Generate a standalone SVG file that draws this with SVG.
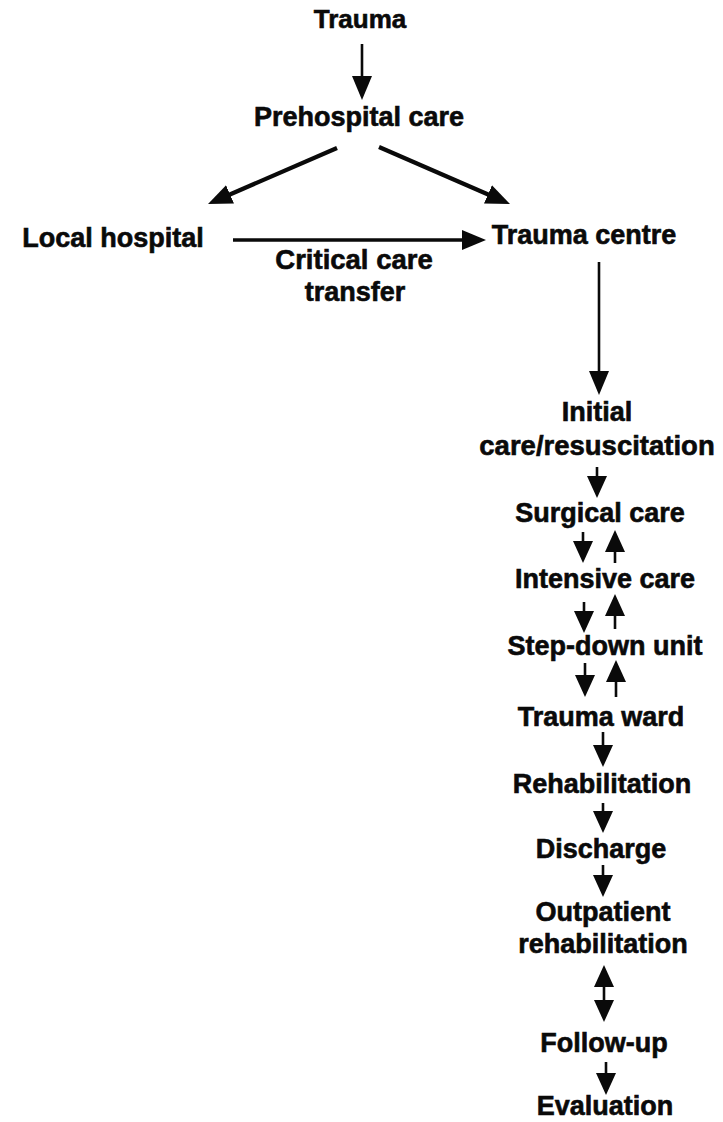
<svg xmlns="http://www.w3.org/2000/svg" width="723" height="1122" viewBox="0 0 723 1122">
<style>
  text { font-family: "Liberation Sans", Arial, Helvetica, sans-serif; font-weight: bold; font-size: 27px; fill: #0a0a0a; stroke: #0a0a0a; stroke-width: 0.6; text-anchor: middle; }
  .c { stroke: #0a0a0a; fill: none; }
  .thin { stroke-width: 2.6; }
  .mid { stroke-width: 3.4; }
  .thick { stroke-width: 4.2; }
</style>
<defs>
  <marker id="ah" markerUnits="userSpaceOnUse" viewBox="0 0 24 20" refX="14" refY="10" markerWidth="24" markerHeight="20" orient="auto-start-reverse">
    <path d="M0,0 L24,10 L0,20 z" fill="#0a0a0a"/>
  </marker>
  <marker id="as" markerUnits="userSpaceOnUse" viewBox="0 0 22 20" refX="12" refY="10" markerWidth="22" markerHeight="20" orient="auto-start-reverse">
    <path d="M0,0 L22,10 L0,20 z" fill="#0a0a0a"/>
  </marker>
</defs>

<g id="connectors">
  <line class="c thin" x1="362" y1="44" x2="362" y2="90" marker-end="url(#ah)"/>
  <line class="c thick" x1="337" y1="148" x2="217.2" y2="200" marker-end="url(#ah)"/>
  <line class="c thick" x1="379" y1="147" x2="500.8" y2="200" marker-end="url(#ah)"/>
  <line class="c mid" x1="233" y1="240" x2="476" y2="240" marker-end="url(#ah)"/>
  <line class="c thin" x1="599" y1="262" x2="599" y2="385" marker-end="url(#ah)"/>
  <line class="c thin" x1="597" y1="467" x2="597" y2="488" marker-end="url(#as)"/>
  <line class="c thin" x1="583" y1="532" x2="583" y2="553" marker-end="url(#as)"/>
  <line class="c thin" x1="615" y1="563" x2="615" y2="540" marker-end="url(#as)"/>
  <line class="c thin" x1="584" y1="602" x2="584" y2="623" marker-end="url(#as)"/>
  <line class="c thin" x1="615" y1="629" x2="615" y2="604" marker-end="url(#as)"/>
  <line class="c thin" x1="585" y1="663" x2="585" y2="687" marker-end="url(#as)"/>
  <line class="c thin" x1="616" y1="697" x2="616" y2="670" marker-end="url(#as)"/>
  <line class="c thin" x1="603" y1="732" x2="603" y2="757" marker-end="url(#as)"/>
  <line class="c thin" x1="603" y1="803" x2="603" y2="823" marker-end="url(#as)"/>
  <line class="c thin" x1="603" y1="865" x2="603" y2="887" marker-end="url(#as)"/>
  <line class="c thin" x1="604" y1="975" x2="604" y2="1012" marker-start="url(#as)" marker-end="url(#as)"/>
  <line class="c thin" x1="606" y1="1062" x2="606" y2="1085" marker-end="url(#as)"/>
</g>

<g id="trauma"><text x="360" y="28" style="font-size:26px">Trauma</text></g>
<g id="prehospital"><text x="359" y="126">Prehospital care</text></g>
<g id="local-hospital"><text x="113" y="247">Local hospital</text></g>
<g id="trauma-centre"><text x="584" y="244">Trauma centre</text></g>
<g id="critical-care-transfer">
  <text x="354" y="269" style="font-size:27.5px">Critical care</text>
  <text x="355" y="301">transfer</text>
</g>
<g id="initial-care">
  <text x="597" y="421">Initial</text>
  <text x="597" y="455" style="font-size:27.5px">care/resuscitation</text>
</g>
<g id="surgical-care"><text x="600" y="522">Surgical care</text></g>
<g id="intensive-care"><text x="605" y="588">Intensive care</text></g>
<g id="step-down-unit"><text x="605" y="655">Step-down unit</text></g>
<g id="trauma-ward"><text x="601" y="726">Trauma ward</text></g>
<g id="rehabilitation"><text x="602" y="793">Rehabilitation</text></g>
<g id="discharge"><text x="601" y="858">Discharge</text></g>
<g id="outpatient-rehabilitation">
  <text x="603" y="921">Outpatient</text>
  <text x="603" y="953">rehabilitation</text>
</g>
<g id="follow-up"><text x="604" y="1052">Follow-up</text></g>
<g id="evaluation"><text x="605" y="1115">Evaluation</text></g>
</svg>
